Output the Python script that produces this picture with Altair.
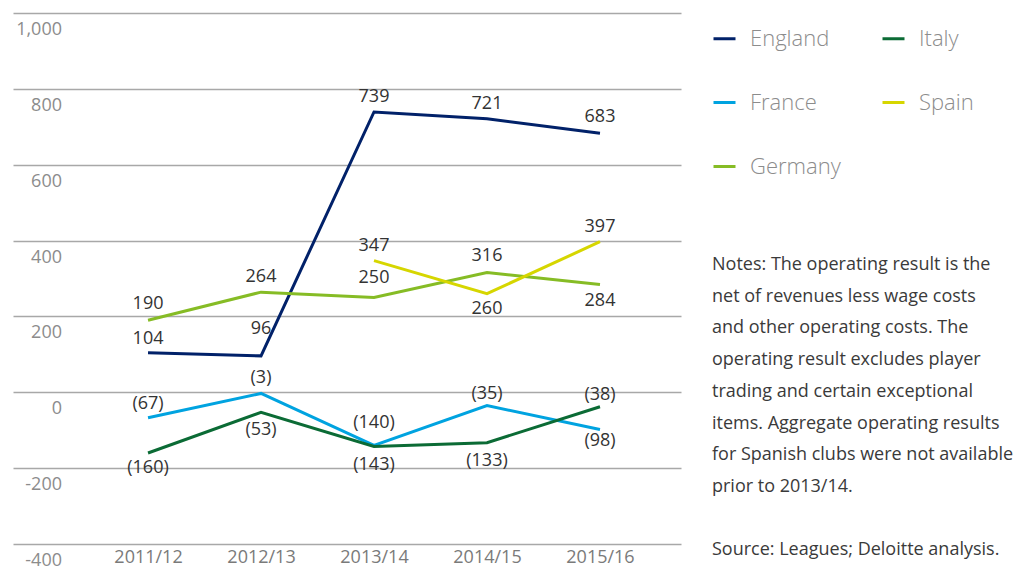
import altair as alt
import pandas as pd

years = ["2011/12", "2012/13", "2013/14", "2014/15", "2015/16"]
england = [104, 96, 739, 721, 683]
france = [-67, -3, -140, -35, -98]
germany = [190, 264, 250, 316, 284]
italy = [-160, -53, -143, -133, -38]
spain = [None, None, 347, 260, 397]

y_ticks = [1000, 800, 600, 400, 200, 0, -200, -400]
y_tick_labels = ["1,000", "800", "600", "400", "200", "0", "-200", "-400"]

notes_lines = [
    "Notes: The operating result is the",
    "net of revenues less wage costs",
    "and other operating costs. The",
    "operating result excludes player",
    "trading and certain exceptional",
    "items. Aggregate operating results",
    "for Spanish clubs were not available",
    "prior to 2013/14.",
]
source_line = "Source: Leagues; Deloitte analysis."

# styling: vertical offset (px) of each value label from its point
label_dy = {
    "England": [-14, -27, -15, -15, -16],
    "France": [-14, -15, -22, -12, 12],
    "Germany": [-16, -15, -19, -16, 16],
    "Italy": [15, 18, 18, 18, -12],
    "Spain": [0, 0, -15, 15, -15],
}

series = {"England": england, "France": france, "Germany": germany,
          "Italy": italy, "Spain": spain}
rows = []
for c, vals in series.items():
    for i, (yr, v) in enumerate(zip(years, vals)):
        rows.append({"year": yr, "country": c, "value": v,
                     "label": None if v is None else (str(v) if v >= 0 else f"({-v})"),
                     "dy": label_dy[c][i]})
df = pd.DataFrame(rows)

legend_order = ["England", "France", "Germany", "Italy", "Spain"]
legend_colors = ["#012169", "#00a3e0", "#86bc25", "#0b6b35", "#d6d600"]

FONT = "Open Sans"
yscale = alt.Scale(domain=[-400, 1000], nice=False, zero=False)
xscale = alt.Scale(padding=0.956, align=0.625)

x_enc = alt.X("year:N", sort=years, scale=xscale,
              axis=alt.Axis(title=None, domain=False, ticks=False, labelAngle=0,
                            labelFontSize=18, labelColor="#7a7a7a", labelFont=FONT,
                            labelPadding=4, grid=False, minExtent=0))
y_enc = alt.Y("value:Q", scale=yscale,
              axis=alt.Axis(title=None, values=y_ticks, labels=False, ticks=False,
                            domain=False, grid=True, gridColor="#a8a8a8",
                            gridWidth=1.5, minExtent=0, maxExtent=0))

lines = alt.Chart(df).mark_line(strokeWidth=3).encode(
    x=x_enc,
    y=y_enc,
    color=alt.Color("country:N",
                    scale=alt.Scale(domain=legend_order, range=legend_colors),
                    legend=alt.Legend(orient="none", legendX=699, legendY=13,
                                      columns=2, direction="vertical", title=None,
                                      symbolType="stroke",
                                      symbolSize=484, symbolStrokeWidth=3,
                                      labelFont=FONT, labelFontSize=22,
                                      labelColor="#8c8c8c", labelFontWeight=300,
                                      rowPadding=40, columnPadding=35,
                                      labelOffset=13, padding=0)),
)

label_df = df.dropna(subset=["value"])
label_layers = []
for d in sorted(label_df["dy"].unique()):
    label_layers.append(
        alt.Chart(label_df[label_df["dy"] == d]).mark_text(
            font=FONT, fontSize=18, color="#333333", baseline="middle",
            align="center", dy=int(d)
        ).encode(
            x=alt.X("year:N", sort=years, scale=xscale),
            y=alt.Y("value:Q", scale=yscale),
            text="label:N",
        )
    )

ytick_df = pd.DataFrame({"v": y_ticks, "t": y_tick_labels})
ylabels = alt.Chart(ytick_df).mark_text(
    font=FONT, fontSize=18, color="#8c8c8c", align="right", baseline="middle", dy=17
).encode(
    x=alt.value(49),
    y=alt.Y("v:Q", scale=yscale),
    text="t:N",
)

one = pd.DataFrame({"a": [0]})
notes = alt.Chart(one).mark_text(
    text=notes_lines, font=FONT, fontSize=18, color="#3a3a3a", align="left",
    baseline="top", lineHeight=31.7
).encode(x=alt.value(699), y=alt.value(243))

source = alt.Chart(one).mark_text(
    text=source_line, font=FONT, fontSize=18, color="#3a3a3a", align="left",
    baseline="middle"
).encode(x=alt.value(699), y=alt.value(537))

chart = alt.layer(lines, *label_layers, ylabels, notes, source).properties(
    width=668, height=531,
    padding={"left": 5, "top": 5, "right": 0, "bottom": 0},
).configure_view(stroke=None)

chart.save("out.html", embed_options={"renderer": "svg", "actions": False})
